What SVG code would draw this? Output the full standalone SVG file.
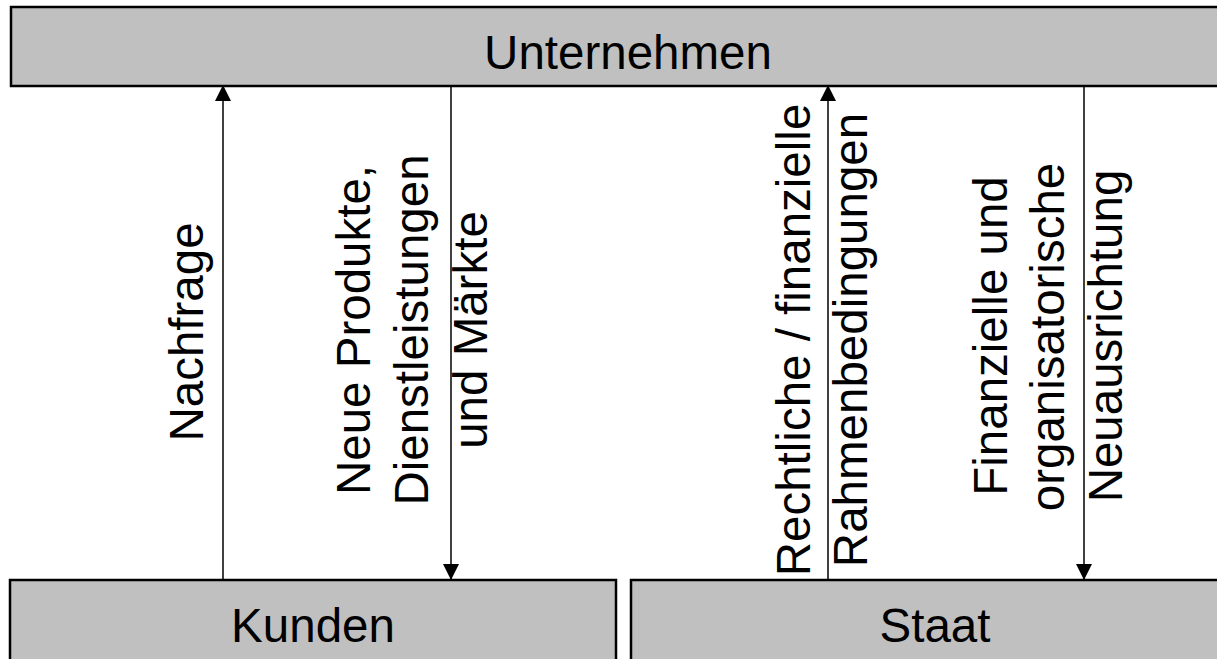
<svg xmlns="http://www.w3.org/2000/svg" width="1217" height="659" viewBox="0 0 1217 659">
<style>
.box{fill:#c0c0c0;stroke:#000;stroke-width:2.5}
.t{font-family:"Liberation Sans",Arial,sans-serif;font-size:47.5px;fill:#000;text-anchor:middle}
.c{stroke:#000;stroke-width:1.5;fill:none}
</style>
<defs>
<marker id="ah" markerWidth="16" markerHeight="16" viewBox="0 0 16 16" refX="16" refY="8" orient="auto" markerUnits="userSpaceOnUse">
<path d="M0,0 L16,8 L0,16 Z" fill="#000"/>
</marker>
</defs>
<g id="unternehmen">
<rect class="box" x="11" y="7" width="1220" height="79"/>
<text class="t" x="628" y="69">Unternehmen</text>
</g>
<g id="kunden">
<rect class="box" x="10" y="580" width="606" height="90"/>
<text class="t" x="313" y="642">Kunden</text>
</g>
<g id="staat">
<rect class="box" x="631" y="580" width="600" height="90"/>
<text class="t" x="935" y="642">Staat</text>
</g>
<g id="connectors">
<line class="c" x1="223" y1="580" x2="223" y2="85" marker-end="url(#ah)"/>
<line class="c" x1="451" y1="86" x2="451" y2="580" marker-end="url(#ah)"/>
<line class="c" x1="828" y1="580" x2="828" y2="85" marker-end="url(#ah)"/>
<line class="c" x1="1084" y1="86" x2="1084" y2="580" marker-end="url(#ah)"/>
</g>
<g id="labels">
<text class="t" transform="translate(203,332) rotate(-90)">Nachfrage</text>
<text class="t" transform="translate(370,330) rotate(-90)">Neue Produkte,</text>
<text class="t" transform="translate(428,330) rotate(-90)">Dienstleistungen</text>
<text class="t" transform="translate(487,330) rotate(-90)">und Märkte</text>
<text class="t" transform="translate(810,340) rotate(-90)">Rechtliche / finanzielle</text>
<text class="t" transform="translate(867,340) rotate(-90)">Rahmenbedingungen</text>
<text class="t" transform="translate(1007,336) rotate(-90)">Finanzielle und</text>
<text class="t" transform="translate(1064,337) rotate(-90)">organisatorische</text>
<text class="t" transform="translate(1122,336) rotate(-90)">Neuausrichtung</text>
</g>
</svg>
